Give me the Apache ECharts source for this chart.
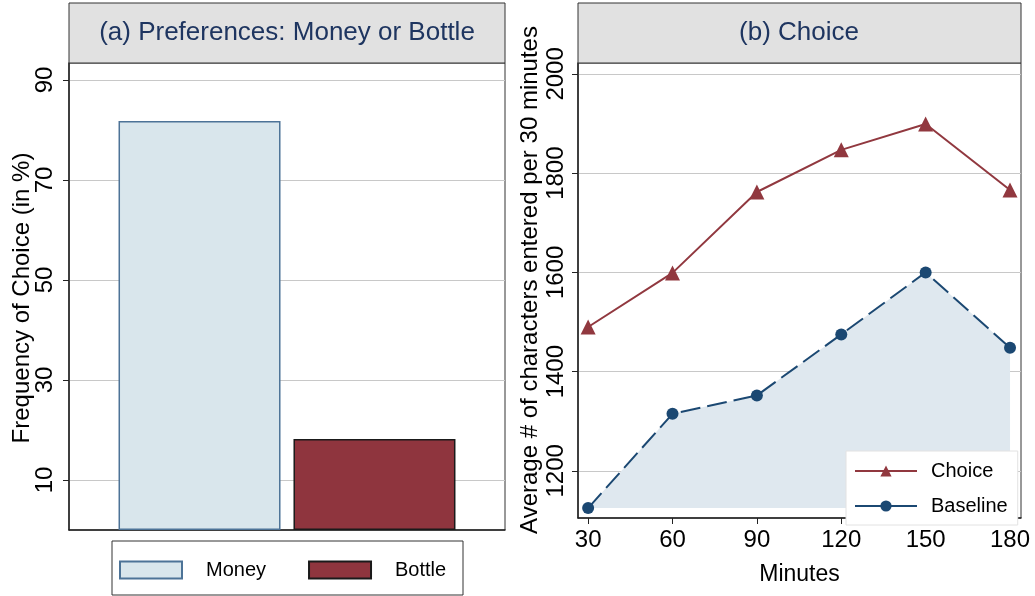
<!DOCTYPE html>
<html>
<head>
<meta charset="utf-8">
<script src="https://cdn.jsdelivr.net/npm/echarts@6/dist/echarts.min.js"></script>
<style>
html,body{margin:0;padding:0;background:#fff;}
#chart{width:1035px;height:596px;}
</style>
</head>
<body>
<div id="chart"></div>
<script>
// ---- data ----
const barCategories = ['Money', 'Bottle'];
const barShares = [81.8, 18.2];
const leftTicks = [10, 30, 50, 70, 90];

const minutes = [30, 60, 90, 120, 150, 180];
const choiceValues = [1490, 1599, 1762, 1847, 1899, 1766];
const baselineValues = [1125, 1315, 1352, 1475, 1600, 1448];
const rightTicks = [1200, 1400, 1600, 1800, 2000];
const xTicks = [30, 60, 90, 120, 150, 180];

// ---- styles ----
const FONT = '"Liberation Sans", Arial, sans-serif';
const barFill = ['#d9e6ec', '#8f353e'];
const barBorder = ['#4d7397', '#1a1a1a'];
const choiceColor = '#91383f';
const baseColor = '#1b4872';

const chart = echarts.init(document.getElementById('chart'), null, {renderer: 'canvas'});

const axisLineStyle = {color: '#222', width: 1.5};
const splitStyle = {color: '#c8c8c8', width: 1.2};
const plain = v => String(v);

const option = {
  backgroundColor: '#fff',
  animation: false,
  textStyle: {fontFamily: FONT},
  grid: [
    {left: 69, right: 530, top: 63, bottom: 66, show: true, borderColor: '#333', borderWidth: 1, backgroundColor: '#fff'},
    {left: 578, right: 14, top: 63, bottom: 78, show: true, borderColor: '#333', borderWidth: 1, backgroundColor: '#fff'}
  ],
  xAxis: [
    {
      type: 'category', gridIndex: 0, data: [''],
      axisLine: {show: true, lineStyle: axisLineStyle},
      axisTick: {show: false}, axisLabel: {show: false}, splitLine: {show: false}
    },
    {
      type: 'value', gridIndex: 1, min: 26.4, max: 183.9,
      name: 'Minutes', nameLocation: 'middle', nameGap: 45,
      nameTextStyle: {fontSize: 23, color: '#000', fontFamily: FONT},
      axisLine: {show: true, onZero: false, lineStyle: axisLineStyle},
      axisTick: {show: true, customValues: xTicks, length: 6, lineStyle: {color: '#222'}},
      axisLabel: {customValues: xTicks, formatter: plain, fontSize: 24, color: '#000', margin: 10, fontFamily: FONT},
      splitLine: {show: false}
    }
  ],
  yAxis: [
    {
      type: 'value', gridIndex: 0, min: 0, max: 93.4,
      axisLine: {show: true, lineStyle: axisLineStyle},
      axisTick: {show: true, customValues: leftTicks, length: 6, lineStyle: {color: '#222'}},
      axisLabel: {customValues: leftTicks, formatter: plain, rotate: 90, fontSize: 24, color: '#000', margin: 12, fontFamily: FONT},
      splitLine: {show: true, lineStyle: splitStyle}
    },
    {
      type: 'value', gridIndex: 1, min: 1105, max: 2022,
      axisLine: {show: true, lineStyle: axisLineStyle},
      axisTick: {show: true, customValues: rightTicks, length: 6, lineStyle: {color: '#222'}},
      axisLabel: {customValues: rightTicks, formatter: plain, rotate: 90, fontSize: 24, color: '#000', margin: 10, fontFamily: FONT},
      splitLine: {show: true, lineStyle: splitStyle}
    }
  ],
  legend: [
    {
      data: barCategories, left: 119, top: 560, padding: 0,
      itemWidth: 62, itemHeight: 17, itemGap: 42, icon: 'rect',
      textStyle: {fontSize: 20, color: '#000', padding: [0, 0, 0, 19], fontFamily: FONT}
    },
    {
      data: ['Choice', 'Baseline'], orient: 'vertical', left: 846, top: 451,
      padding: [10, 10, 9, 8], itemWidth: 62, itemHeight: 14, itemGap: 15,
      backgroundColor: '#fff', borderColor: '#e2e2e2', borderWidth: 1,
      lineStyle: {type: 'solid'},
      textStyle: {fontSize: 20, color: '#000', padding: [0, 0, 0, 9], fontFamily: FONT}
    }
  ],
  series: [
    {
      name: barCategories[0], type: 'bar', xAxisIndex: 0, yAxisIndex: 0,
      data: [barShares[0]], barWidth: 162, barGap: '8%',
      itemStyle: {color: barFill[0], borderColor: barBorder[0], borderWidth: 1.5}
    },
    {
      name: barCategories[1], type: 'bar', xAxisIndex: 0, yAxisIndex: 0,
      data: [barShares[1]], barWidth: 162, barGap: '8%',
      itemStyle: {color: barFill[1], borderColor: barBorder[1], borderWidth: 1.5}
    },
    {
      name: 'Baseline', type: 'line', xAxisIndex: 1, yAxisIndex: 1,
      data: minutes.map((m, i) => [m, baselineValues[i]]),
      symbol: 'circle', symbolSize: 12,
      lineStyle: {color: baseColor, width: 2, type: [20, 7]},
      itemStyle: {color: baseColor},
      areaStyle: {color: '#dfe8ef', opacity: 1, origin: Math.min(...baselineValues)},
      z: 2
    },
    {
      name: 'Choice', type: 'line', xAxisIndex: 1, yAxisIndex: 1,
      data: minutes.map((m, i) => [m, choiceValues[i]]),
      symbol: 'triangle', symbolSize: 15,
      lineStyle: {color: choiceColor, width: 2},
      itemStyle: {color: choiceColor},
      z: 3
    }
  ],
  graphic: [
    {type: 'rect', z: 10, shape: {x: 69, y: 3, width: 436, height: 60}, style: {fill: '#e1e1e1', stroke: '#333', lineWidth: 1}},
    {type: 'text', z: 11, x: 287, y: 33, style: {text: '(a) Preferences: Money or Bottle', font: '26px ' + FONT, fill: '#1e3560', textAlign: 'center', textVerticalAlign: 'middle'}},
    {type: 'rect', z: 10, shape: {x: 578, y: 3, width: 443, height: 60}, style: {fill: '#e1e1e1', stroke: '#333', lineWidth: 1}},
    {type: 'text', z: 11, x: 799, y: 33, style: {text: '(b) Choice', font: '26px ' + FONT, fill: '#1e3560', textAlign: 'center', textVerticalAlign: 'middle'}},
    {type: 'rect', z: 0, shape: {x: 112, y: 541, width: 351, height: 54}, style: {fill: '#fff', stroke: '#333', lineWidth: 1}},
    {type: 'text', z: 11, x: 22, y: 298, rotation: Math.PI / 2, style: {text: 'Frequency of Choice (in %)', font: '24px ' + FONT, fill: '#000', textAlign: 'center', textVerticalAlign: 'middle'}},
    {type: 'text', z: 11, x: 530, y: 280, rotation: Math.PI / 2, style: {text: 'Average # of characters entered per 30 minutes', font: '24px ' + FONT, fill: '#000', textAlign: 'center', textVerticalAlign: 'middle'}}
  ]
};

chart.setOption(option);
</script>
</body>
</html>
